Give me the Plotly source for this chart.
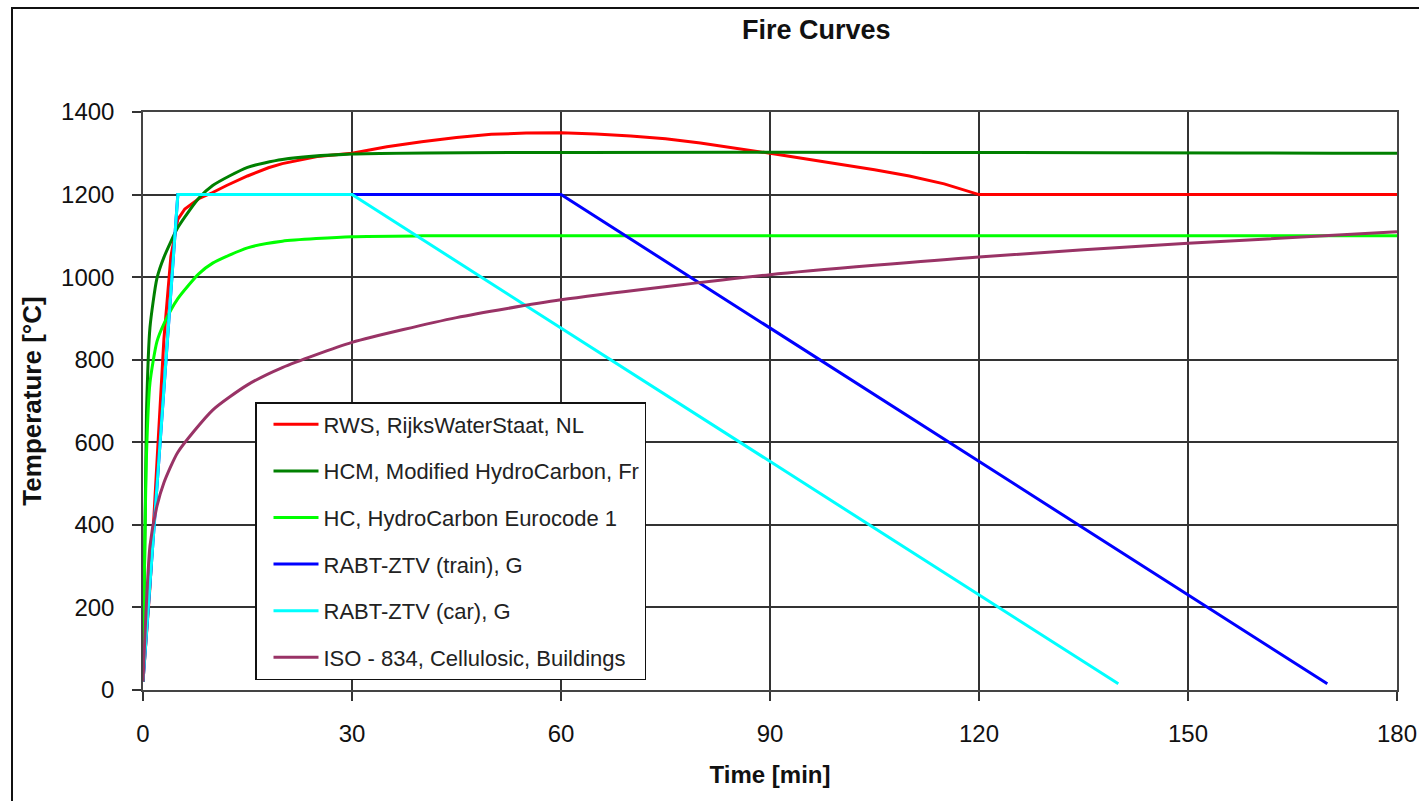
import plotly.graph_objects as go

# ---- data ----
rws_t = [0, 1, 2, 3, 4, 5, 6, 8, 10, 12, 15, 18, 20, 25, 30, 35, 40, 45, 50, 55, 60,
         65, 70, 75, 80, 85, 90, 95, 100, 105, 110, 115, 120, 180]
rws_T = [20, 250, 550, 850, 1050, 1140, 1165, 1190, 1205, 1222, 1245, 1265, 1275, 1292, 1300,
         1316, 1328, 1338, 1346, 1349, 1350, 1347, 1342, 1335, 1325, 1313, 1300, 1287, 1274,
         1260, 1245, 1226, 1200, 1200]

hcm_t = [0, 0.5, 1, 2, 3, 5, 8, 10, 15, 20, 30, 180]
hcm_T = [20, 670, 878, 997, 1048, 1120, 1191, 1222, 1266, 1285, 1298, 1300]

hc_t = [0, 0.5, 1, 2, 3, 5, 8, 10, 15, 20, 30, 40, 180]
hc_T = [20, 569, 744, 844, 887, 948, 1008, 1034, 1071, 1087, 1098, 1100, 1100]

train_t = [0, 5, 60, 170]
train_T = [20, 1200, 1200, 15]

car_t = [0, 5, 30, 140]
car_T = [20, 1200, 1200, 15]

iso_t = [0, 1, 2, 3, 5, 10, 15, 20, 30, 45, 60, 90, 120, 150, 180]
iso_T = [20, 349, 445, 502, 576, 678, 739, 781, 842, 902, 945, 1006, 1049, 1082, 1110]

names = [
    "RWS, RijksWaterStaat, NL",
    "HCM, Modified HydroCarbon, Fr",
    "HC, HydroCarbon Eurocode 1",
    "RABT-ZTV (train), G",
    "RABT-ZTV (car), G",
    "ISO - 834, Cellulosic, Buildings",
]
colors = ["#FF0000", "#008000", "#00FF00", "#0000FF", "#00FFFF", "#993366"]
series = [(rws_t, rws_T), (hcm_t, hcm_T), (hc_t, hc_T),
          (train_t, train_T), (car_t, car_T), (iso_t, iso_T)]

x_ticks = [0, 30, 60, 90, 120, 150, 180]
y_ticks = [0, 200, 400, 600, 800, 1000, 1200, 1400]

FONT = "Arial, Liberation Sans, sans-serif"

fig = go.Figure()
for i, ((t, T), name, c) in enumerate(zip(series, names, colors)):
    shape = "spline" if i in (1, 2, 5) else "linear"
    fig.add_trace(go.Scatter(
        x=t, y=T, mode="lines", name=name, legendgroup=f"g{i}",
        line=dict(color=c, width=3, shape=shape, smoothing=0.6),
    ))

# page body margin is removed below, so figure pixels == page pixels
W, H = 1419, 801
L, R, T_, B = 143, 1397, 112, 690
pw, ph = R - L, B - T_


def px(x):
    return (x - L) / pw


def py(y):
    return (B - y) / ph


fig.update_layout(
    width=W, height=H,
    margin=dict(l=L, r=W - R, t=T_, b=H - B, autoexpand=False),
    paper_bgcolor="white", plot_bgcolor="white",
    font=dict(family=FONT, color="black"),
    showlegend=True,
    legend=dict(
        x=px(255), y=py(402), xanchor="left", yanchor="top",
        bgcolor="white", bordercolor="#111", borderwidth=1.5,
        font=dict(size=22, family=FONT, color="#222"),
        tracegroupgap=15, itemwidth=45, indentation=12,
    ),
    xaxis=dict(
        range=[0, 180], tickvals=x_ticks, ticks="outside", ticklen=9,
        tickcolor="#333", tickwidth=1.5, ticklabelstandoff=12,
        showgrid=True, gridcolor="#333", gridwidth=1.5,
        showline=True, linecolor="#444", linewidth=1.5, mirror=True,
        zeroline=False, tickfont=dict(size=24, family=FONT, color="#111"),
        title=dict(text="<b>Time [min]</b>", font=dict(size=24, family=FONT, color="#111"),
                   standoff=21),
    ),
    yaxis=dict(
        range=[0, 1400], tickvals=y_ticks, ticks="outside", ticklen=9,
        tickcolor="#333", tickwidth=1.5, ticklabelstandoff=13,
        showgrid=True, gridcolor="#333", gridwidth=1.5,
        showline=True, linecolor="#444", linewidth=1.5, mirror=True,
        zeroline=False, tickfont=dict(size=24, family=FONT, color="#111"),
        title=dict(text="<b>Temperature [°C]</b>", font=dict(size=26, family=FONT, color="#111"),
                   standoff=12),
    ),
    annotations=[dict(
        text="<b>Fire Curves</b>", xref="paper", yref="paper",
        x=px(816), y=py(30), xanchor="center", yanchor="middle",
        showarrow=False, font=dict(size=27, family=FONT, color="#111"),
    )],
    shapes=[dict(
        type="path", xref="paper", yref="paper",
        path=f"M {px(12)} {py(900)} L {px(12)} {py(8)} L {px(1500)} {py(8)}",
        line=dict(color="#111", width=2), layer="below",
    )],
)

fig.write_html(
    "out.html",
    config={"displayModeBar": False},
    post_script=(
        "document.body.style.margin='0';"
        "document.body.style.overflow='hidden';"
        "document.documentElement.style.overflow='hidden';"
    ),
)
